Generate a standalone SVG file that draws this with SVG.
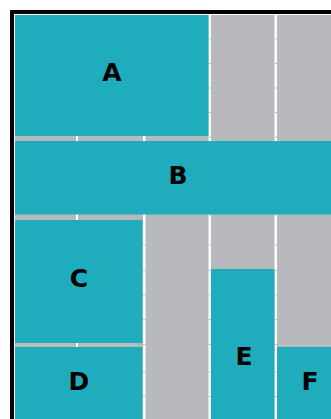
<svg xmlns="http://www.w3.org/2000/svg" width="331" height="419" viewBox="0 0 331 419">
<style>
.cell{fill:#b8b9bc}
.node{fill:#1fadbd}
.tick{stroke:#c4c5c8;stroke-width:1.2}
.wtick{fill:#ffffff}
.lbl{font-family:"DejaVu Sans",sans-serif;font-weight:bold;font-size:25px;fill:#000;text-anchor:middle}
</style>
<rect x="0" y="0" width="331" height="419" fill="#ffffff"/>
<g id="grid">
<rect class="cell" x="15" y="15" width="61" height="404"/>
<rect class="cell" x="78" y="15" width="65" height="404"/>
<rect class="cell" x="145.5" y="15" width="63" height="404"/>
<rect class="cell" x="211" y="15" width="63.5" height="404"/>
<rect class="cell" x="277" y="15" width="54" height="404"/>
<g class="tick">
<path d="M208.5 39h2.5M208.5 63.5h2.5M208.5 88h2.5M208.5 112.5h2.5M208.5 137h2.5M274.5 39h2.5M274.5 63.5h2.5M274.5 88h2.5M274.5 112.5h2.5M274.5 137h2.5"/>
<path d="M143 245h2.5M143 270.5h2.5M143 295h2.5M143 319.5h2.5M143 344.5h2.5M143 372h2.5M143 396.5h2.5"/>
<path d="M208.5 215h2.5M208.5 245h2.5M208.5 270.5h2.5M208.5 295h2.5M208.5 319.5h2.5M208.5 344.5h2.5M208.5 372h2.5M208.5 396.5h2.5"/>
<path d="M274.5 215h2.5M274.5 245h2.5M274.5 270.5h2.5M274.5 295h2.5M274.5 319.5h2.5M274.5 344.5h2.5M274.5 372h2.5M274.5 396.5h2.5"/>
</g>
</g>
<g id="node-A">
<rect class="node" x="15" y="15" width="193.5" height="121"/>
<text class="lbl" x="112" y="81">A</text>
</g>
<g id="node-B">
<rect class="node" x="15" y="141" width="316" height="73.5"/>
<text class="lbl" x="178" y="184">B</text>
</g>
<g id="node-C">
<rect class="node" x="15" y="220" width="127.5" height="123"/>
<text class="lbl" x="79" y="287">C</text>
</g>
<g id="node-D">
<rect class="node" x="15" y="347" width="127.5" height="72"/>
<text class="lbl" x="79" y="390">D</text>
</g>
<g id="node-E">
<rect class="node" x="211" y="269" width="63.5" height="150"/>
<text class="lbl" x="244" y="365">E</text>
</g>
<g id="node-F">
<rect class="node" x="277" y="347" width="54" height="72"/>
<text class="lbl" x="310" y="390">F</text>
</g>
<g id="connectors"></g>
<path d="M12 419V12H331" fill="none" stroke="#000" stroke-width="4"/>
</svg>
